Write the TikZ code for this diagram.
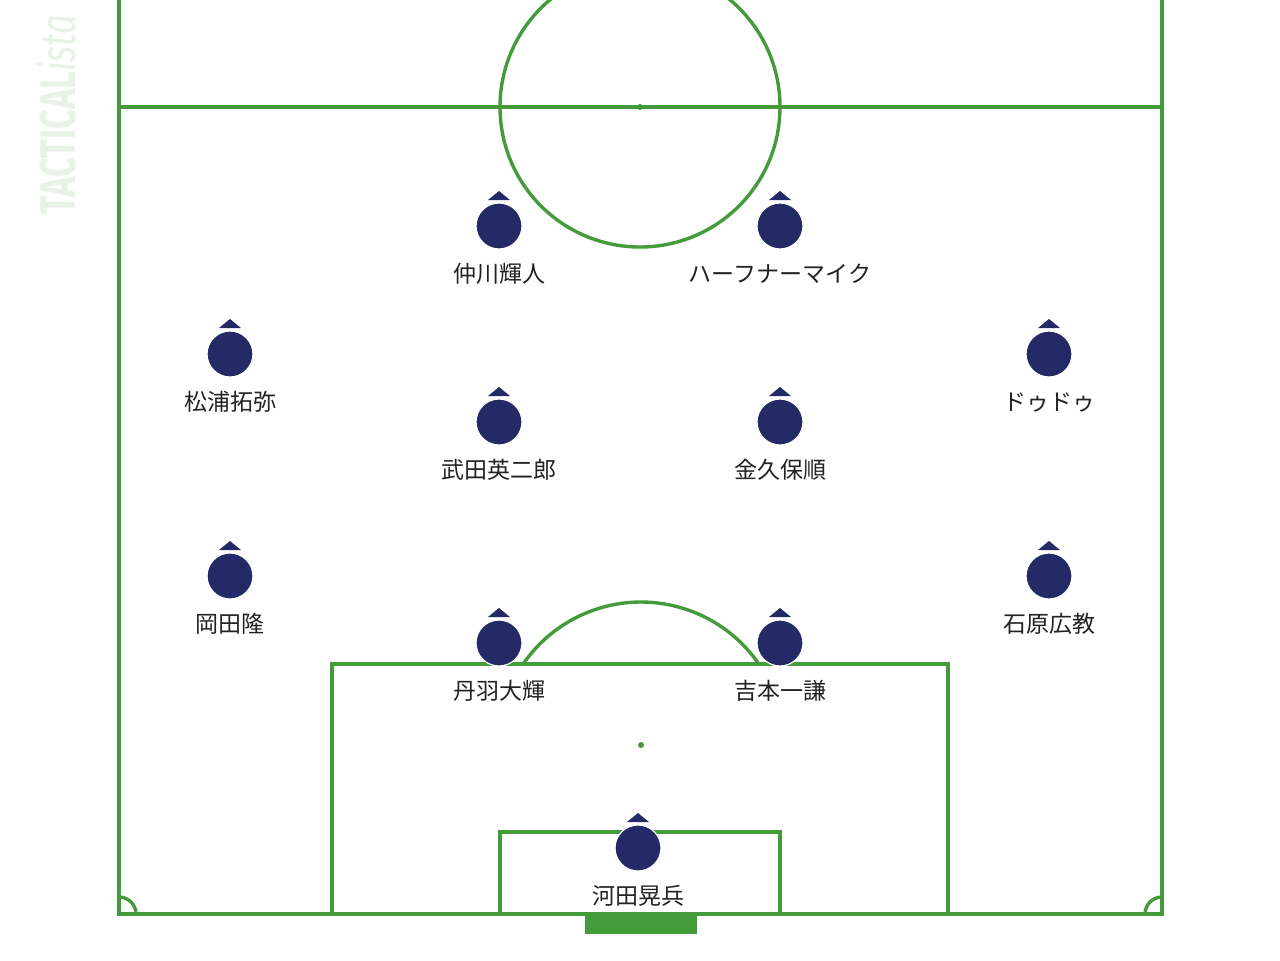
\documentclass[tikz,border=0pt]{standalone}
\usepackage{fontspec}
\setmainfont{Noto Sans CJK JP}
\newfontfamily\brandfont{Fira Sans}
\definecolor{pitch}{RGB}{68,155,58}
\definecolor{kit}{RGB}{35,42,102}
\definecolor{ink}{RGB}{34,34,34}
\definecolor{brand}{RGB}{232,242,230}

\begin{document}
\begin{tikzpicture}[x=0.5pt,y=-0.5pt,
  line/.style={draw=pitch,line width=1.7pt},
  spot/.style={fill=pitch},
  player/.style={circle,fill=kit,draw=white,line width=0.6pt,minimum size=23pt,inner sep=0pt,outer sep=0pt},
  arrowhead/.style={fill=kit},
  playername/.style={anchor=base,inner sep=0pt,text=ink,font=\fontsize{11.5}{12}\selectfont}]
\clip (0,0) rectangle (1280,960);
\fill[white] (0,0) rectangle (1280,960);

% Watermark
\node[rotate=90,text=brand,inner sep=0pt] (logo) at (56,115)
  {\brandfont\fontsize{25}{25}\selectfont\scalebox{0.69}[1]{\bfseries TACTICAL\mdseries\itshape ista}};

% Touch lines and goal line
\draw[line] (119,-10) -- (119,914) -- (1162,914) -- (1162,-10);

% Halfway line and centre circle
\draw[line] (119,107) -- (1162,107);
\draw[line] (640,107) circle[radius=140];
\fill[spot] (640,107) circle[radius=3];

% Penalty area
\draw[line] (332,914) -- (332,664) -- (948,664) -- (948,914);
\draw[line] (641,745) ++(214.5:143) arc[start angle=214.5,end angle=325.5,radius=143];
\fill[spot] (641,745) circle[radius=3];

% Goal area
\draw[line] (500,914) -- (500,832) -- (780,832) -- (780,914);

% Corner arcs
\draw[line] (136,914) arc[start angle=0,end angle=-90,radius=17];
\draw[line] (1145,914) arc[start angle=180,end angle=270,radius=17];

% Goal
\fill[spot] (585,916) rectangle (697,934);

% Players
\foreach \px/\py/\id/\nm in {
    499/226/nakagawa/仲川輝人, 780/226/havenaar/ハーフナーマイク,
    230/354/matsuura/松浦拓弥, 1049/354/dudu/ドゥドゥ,
    499/422/takeda/武田英二郎, 780/422/kanakubo/金久保順,
    230/576/okada/岡田隆, 1049/576/ishihara/石原広教,
    499/643/niwa/丹羽大輝, 780/643/yoshimoto/吉本一謙,
    638/848/kawata/河田晃兵}{
  \node[player] (\id) at (\px,\py) {};
  \fill[arrowhead] (\id.north) ++(-11,-3) -- ++(22,0) -- ++(-11,-9) -- cycle;
  \node[playername] (\id-name) at (\px,\py+56) {\nm};
}

\end{tikzpicture}
\end{document}
